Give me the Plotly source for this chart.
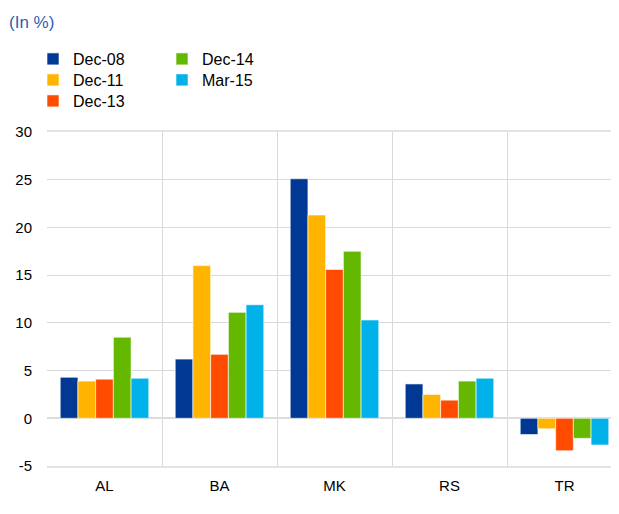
import plotly.graph_objects as go

categories = ["AL", "BA", "MK", "RS", "TR"]
series_names = ["Dec-08", "Dec-11", "Dec-13", "Dec-14", "Mar-15"]
dec08 = [4.3, 6.2, 25.1, 3.6, -1.7]
dec11 = [3.9, 16.0, 21.3, 2.5, -1.1]
dec13 = [4.1, 6.7, 15.6, 1.9, -3.4]
dec14 = [8.5, 11.1, 17.5, 3.9, -2.1]
mar15 = [4.2, 11.9, 10.3, 4.2, -2.8]
y_ticks = [-5, 0, 5, 10, 15, 20, 25, 30]

values = [dec08, dec11, dec13, dec14, mar15]
colors = ["#003894", "#FFB400", "#FF4B00", "#65B800", "#00B1EA"]
legend_ids = ["legend", "legend2", "legend3", "legend4", "legend5"]
# legend item placement (figure pixels): column x, row top y
legend_pos = [(25, 34), (25, 55), (25, 76), (154, 34), (154, 55)]

W, H = 619, 514
ML, MR, MT, MB = 39, 5, 124, 56

fig = go.Figure()
for name, vals, col, lg in zip(series_names, values, colors, legend_ids):
    fig.add_trace(go.Bar(
        x=categories, y=vals, name=name, legend=lg,
        marker=dict(color=col, line=dict(color="rgba(255,255,255,0.6)", width=1)),
    ))

font = "Liberation Sans, Arial, sans-serif"


def legend_at(px, py):
    return dict(
        orientation="v", xanchor="left", yanchor="top",
        xref="container", yref="container",
        x=px / W, y=1 - py / H,
        font=dict(family=font, size=16, color="#000000"),
        bgcolor="rgba(0,0,0,0)", tracegroupgap=0, itemwidth=30,
        traceorder="normal",
    )


legend_layout = {lg: legend_at(px, py) for lg, (px, py) in zip(legend_ids, legend_pos)}

fig.update_layout(
    width=W, height=H,
    margin=dict(l=ML, r=MR, t=MT, b=MB, autoexpand=False),
    paper_bgcolor="white", plot_bgcolor="white",
    barmode="group", bargap=0.23, bargroupgap=0,
    showlegend=True,
    annotations=[dict(
        text="(In %)", showarrow=False,
        xref="paper", yref="paper",
        x=(-1 - ML) / (W - ML - MR), y=1 + (MT - 15) / (H - MT - MB),
        font=dict(family=font, size=17, color="#2F5FB3"),
        xanchor="left", yanchor="middle",
    )],
    font=dict(family=font, size=15, color="#000000"),
    **legend_layout,
)

fig.update_xaxes(
    type="category", tickson="boundaries", showgrid=True, gridcolor="#d9d9d9", gridwidth=1,
    showline=True, mirror=True, linecolor="#e3e3e3", linewidth=2,
    ticks="", ticklabelstandoff=5,
    tickfont=dict(family=font, size=15, color="#000000"),
    range=[-0.5, 4.5],
)
fig.update_yaxes(
    range=[-5, 30], tickvals=y_ticks, ticktext=[str(v) for v in y_ticks],
    showgrid=True, gridcolor="#d9d9d9", gridwidth=1,
    zeroline=True, zerolinecolor="#dcdcdc", zerolinewidth=2,
    showline=False, ticks="outside", ticklen=11, tickcolor="rgba(0,0,0,0)",
    tickfont=dict(family=font, size=15, color="#000000"),
)

fig.write_html("out.html")
